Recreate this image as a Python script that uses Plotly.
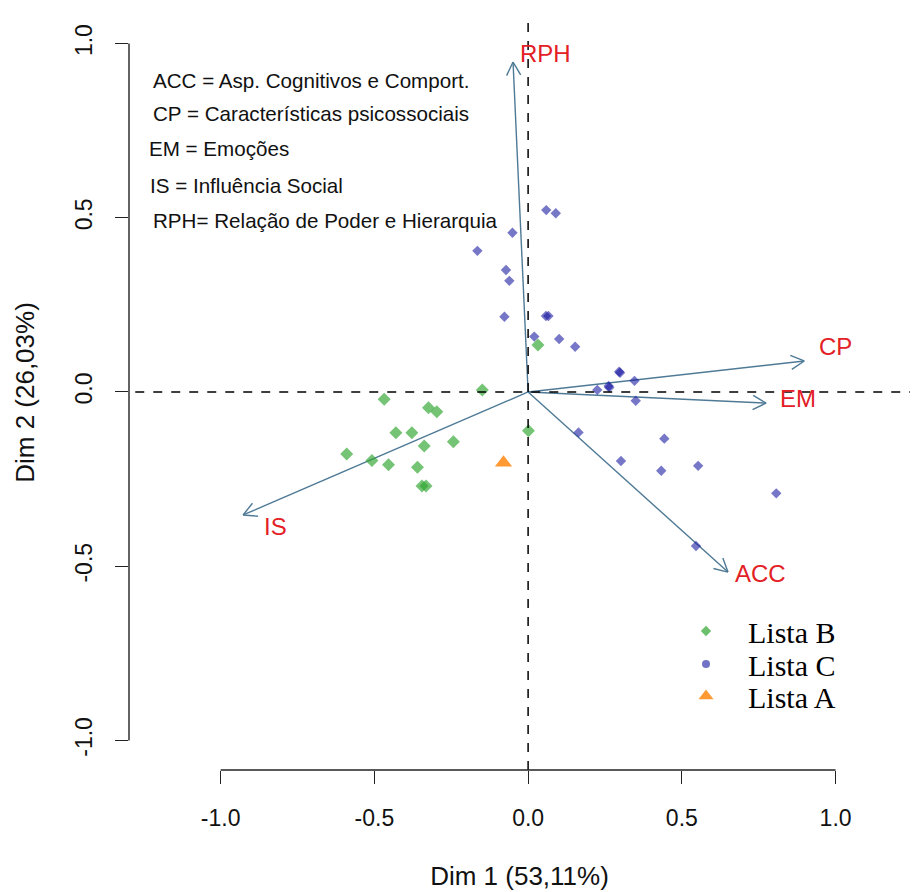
import math
import plotly.graph_objects as go

# ---------------- data ----------------
lista_b_x = [-0.149, -0.468, -0.324, -0.297, -0.430, -0.378, -0.338, -0.243, 0.001,
             -0.590, -0.508, -0.454, -0.360, -0.345, -0.332, 0.032]
lista_b_y = [0.006, -0.021, -0.045, -0.057, -0.117, -0.117, -0.155, -0.143, -0.111,
             -0.178, -0.197, -0.209, -0.216, -0.270, -0.270, 0.135]

lista_c_x = [0.059, 0.090, -0.051, -0.165, -0.072, -0.061, -0.077, 0.058, 0.066, 0.020,
             0.101, 0.153, 0.299, 0.296, 0.346, 0.225, 0.264, 0.262, 0.350, 0.164,
             0.443, 0.302, 0.433, 0.553, 0.807, 0.546]
lista_c_y = [0.522, 0.513, 0.457, 0.405, 0.350, 0.319, 0.216, 0.218, 0.218, 0.159,
             0.152, 0.130, 0.055, 0.058, 0.032, 0.006, 0.013, 0.017, -0.025, -0.116,
             -0.134, -0.198, -0.226, -0.212, -0.291, -0.442]

lista_a_x = [-0.080]
lista_a_y = [-0.203]

var_names = ["RPH", "CP", "EM", "IS", "ACC"]
var_x = [-0.049, 0.898, 0.774, -0.927, 0.650]
var_y = [0.947, 0.089, -0.032, -0.353, -0.517]

legend_lines = [
    "ACC = Asp. Cognitivos e Comport.",
    "CP = Características psicossociais",
    "EM = Emoções",
    "IS = Influência Social",
    "RPH= Relação de Poder e Hierarquia",
]

tick_vals = [-1.0, -0.5, 0.0, 0.5, 1.0]
tick_text = ["-1.0", "-0.5", "0.0", "0.5", "1.0"]
x_title = "Dim 1 (53,11%)"
y_title = "Dim 2 (26,03%)"

# ---------------- layout geometry ----------------
W, H = 915, 892
ML, MR, MT, MB = 129, 5, 15, 122
XR = [-1.298, 1.242]
YR = [-1.085, 1.082]
pw, ph = W - ML - MR, H - MT - MB
sx = pw / (XR[1] - XR[0])
sy = ph / (YR[1] - YR[0])

SANS = "Liberation Sans, Arial, sans-serif"
SERIF = "Liberation Serif, Times New Roman, serif"
ARROW = "#4f7a96"
RED = "#e32026"

fig = go.Figure()

# arrows (variables)
head_len, head_ang = 15, math.radians(28)
for name, vx, vy in zip(var_names, var_x, var_y):
    px, py = vx * sx, vy * sy
    L = math.hypot(px, py)
    ux, uy = px / L, py / L
    xs, ys = [0, vx], [0, vy]
    for s in (1, -1):
        a = s * head_ang
        bx = -(ux * math.cos(a) - uy * math.sin(a)) * head_len
        by = -(ux * math.sin(a) + uy * math.cos(a)) * head_len
        xs += [None, vx, vx + bx / sx]
        ys += [None, vy, vy + by / sy]
    fig.add_trace(go.Scatter(x=xs, y=ys, mode="lines",
                             line=dict(color=ARROW, width=1.4),
                             showlegend=False, hoverinfo="skip"))

# points
fig.add_trace(go.Scatter(x=lista_b_x, y=lista_b_y, mode="markers", showlegend=False,
                         marker=dict(symbol="diamond", size=10,
                                     color="rgba(46,164,46,0.66)", line=dict(width=0))))
fig.add_trace(go.Scatter(x=lista_c_x, y=lista_c_y, mode="markers", showlegend=False,
                         marker=dict(symbol="diamond", size=8,
                                     color="rgba(20,20,160,0.58)", line=dict(width=0))))
fig.add_trace(go.Scatter(x=lista_a_x, y=lista_a_y, mode="markers", showlegend=False,
                         marker=dict(symbol="triangle-up", size=15,
                                     color="#ff9933", line=dict(width=0))))

# legend-only entries, one legend box each
fig.add_trace(go.Scatter(x=[None], y=[None], mode="markers", name="Lista B", legend="legend",
                         marker=dict(symbol="diamond", size=8, color="rgba(46,164,46,0.7)")))
fig.add_trace(go.Scatter(x=[None], y=[None], mode="markers", name="Lista C", legend="legend2",
                         marker=dict(symbol="circle", size=8, color="rgba(20,20,160,0.6)")))
fig.add_trace(go.Scatter(x=[None], y=[None], mode="markers", name="Lista A", legend="legend3",
                         marker=dict(symbol="triangle-up", size=13, color="#ff9933")))

# variable labels
label_shift = {"RPH": (5, 9), "CP": (13, 14), "EM": (12, 5), "IS": (19, -12), "ACC": (5, -1)}
for name, vx, vy in zip(var_names, var_x, var_y):
    dx, dy = label_shift[name]
    fig.add_annotation(x=vx, y=vy, text=name, showarrow=False, xanchor="left",
                       yanchor="middle", xshift=dx, yshift=dy,
                       font=dict(family=SANS, size=24, color=RED))

# text block in top-left
line_y = [80, 113, 148, 185, 220]
line_x = [151, 151, 147, 148, 151]
for txt, lx, ly in zip(legend_lines, line_x, line_y):
    fig.add_annotation(xref="paper", yref="paper",
                       x=(lx - ML) / pw, y=1 - (ly - MT) / ph,
                       text=txt, showarrow=False, xanchor="left", yanchor="middle",
                       font=dict(family=SANS, size=20.6, color="#111111"))

# reference lines & axis lines
fig.add_shape(type="line", xref="paper", yref="y", x0=0.008, x1=1, y0=0, y1=0,
              line=dict(color="black", width=1.5, dash="dash"))
fig.add_shape(type="line", xref="x", yref="paper", x0=0, x1=0, y0=0, y1=1,
              line=dict(color="black", width=1.5, dash="dash"))
fig.add_shape(type="line", xref="x", yref="paper", x0=tick_vals[0], x1=tick_vals[-1],
              y0=0, y1=0, line=dict(color="#222222", width=1.4))
fig.add_shape(type="line", xref="paper", yref="y", x0=0, x1=0,
              y0=tick_vals[0], y1=tick_vals[-1], line=dict(color="#222222", width=1.4))


def leg(y_px):
    return dict(x=(664 - ML) / pw, y=1 - (y_px - MT) / ph, xanchor="left", yanchor="middle",
                font=dict(family=SERIF, size=30, color="black"),
                bgcolor="rgba(0,0,0,0)", itemwidth=74, borderwidth=0)


fig.update_layout(
    width=W, height=H,
    margin=dict(l=ML, r=MR, t=MT, b=MB),
    paper_bgcolor="white", plot_bgcolor="white",
    showlegend=True,
    legend=leg(631), legend2=leg(664), legend3=leg(696),
    xaxis=dict(range=XR, showgrid=False, zeroline=False, showline=False,
               tickvals=tick_vals, ticktext=tick_text, ticks="outside",
               ticklen=13, tickwidth=1.4, tickcolor="#222222",
               ticklabelstandoff=14,
               tickfont=dict(family=SANS, size=23, color="#111111"),
               title=dict(text=x_title, standoff=37,
                          font=dict(family=SANS, size=26, color="#111111"))),
    yaxis=dict(range=YR, showgrid=False, zeroline=False, showline=False,
               tickvals=tick_vals, ticktext=tick_text, ticks="outside",
               ticklen=13, tickwidth=1.4, tickcolor="#222222",
               tickangle=-90, ticklabelstandoff=14,
               tickfont=dict(family=SANS, size=23, color="#111111"),
               title=dict(text=y_title, standoff=28,
                          font=dict(family=SANS, size=26, color="#111111"))),
)

fig.write_html("out.html")
